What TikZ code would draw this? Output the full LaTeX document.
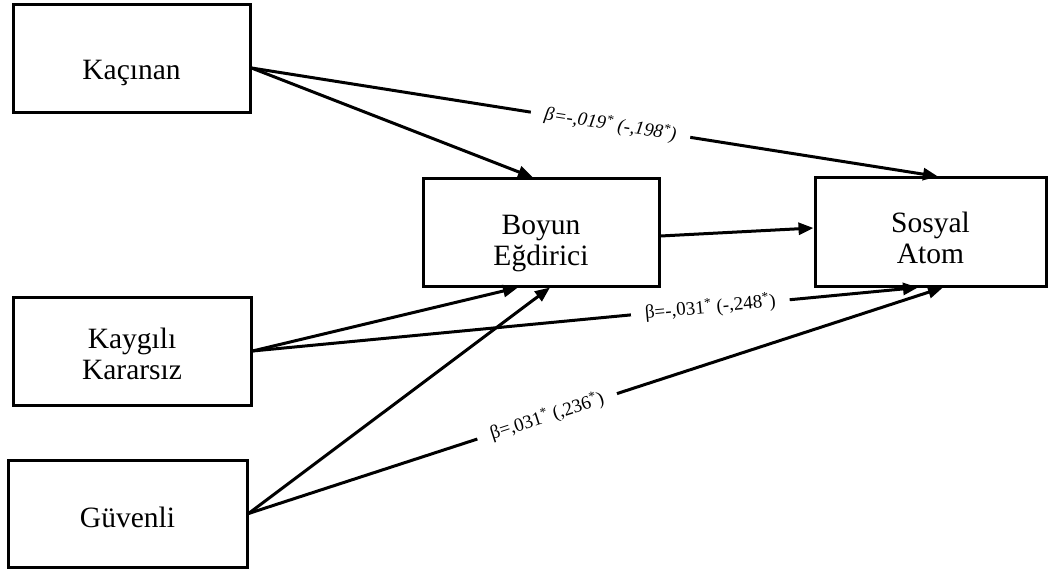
\documentclass[tikz,border=0pt]{standalone}
\usepackage{fontspec}
\setmainfont{Liberation Serif}
\usetikzlibrary{arrows.meta,calc}
\newcommand\bxtxt[2]{\raisebox{-#1}[\height][\depth]{\begin{tabular}{@{}c@{}}#2\end{tabular}}}
\begin{document}
\begin{tikzpicture}[x=1pt,y=-1pt,
  box/.style={draw=black,line width=3pt,fill=white,rectangle,align=center,
    font=\fontsize{29.5}{31}\selectfont,inner sep=0pt},
  conn/.style={line width=3pt,-{Triangle[length=15pt,width=12pt]}},
  lab/.style={fill=white,sloped,font=\fontsize{19}{21}\selectfont,inner xsep=14pt,inner ysep=4pt}]
\useasboundingbox (0,0) rectangle (1049,572);
\node[box,minimum width=237pt,minimum height=108pt] (kac) at (131.5,59) {\bxtxt{14pt}{Kaçınan}};
\node[box,minimum width=238pt,minimum height=108pt] (kay) at (132,351) {\bxtxt{7pt}{Kaygılı\\Kararsız}};
\node[box,minimum width=239pt,minimum height=107pt] (guv) at (127.5,513.5) {\bxtxt{8pt}{Güvenli}};
\node[box,minimum width=236pt,minimum height=107pt] (boy) at (541,232.5) {\bxtxt{11pt}{Boyun\\Eğdirici}};
\node[box,minimum width=231pt,minimum height=108pt] (sos) at (930.5,232) {\bxtxt{10pt}{Sosyal\\Atom}};
\coordinate (kacO) at ([yshift=-9pt]kac.east);
\coordinate (boyT) at ([xshift=-8pt]boy.north);
\coordinate (boyB1) at ([xshift=-23pt]boy.south);
\coordinate (boyB2) at ([xshift=9pt]boy.south);
\coordinate (sosT) at ([xshift=7.5pt]sos.north);
\coordinate (sosB1) at ([xshift=-12.5pt]sos.south);
\coordinate (sosB2) at ([xshift=12.5pt]sos.south);
\coordinate (sosW) at ([yshift=4pt]sos.west);
\coordinate (boyE) at ([yshift=-3.5pt]boy.east);
\draw[conn] (kacO) -- (boyT);
\draw[conn] (kacO) -- node[lab,pos=0.523] {\itshape β=-,019\textsuperscript{*} (-,198\textsuperscript{*})} (sosT);
\draw[conn] (boyE) -- (sosW);
\draw[conn] (kay.east) -- (boyB1);
\draw[conn] (kay.east) -- node[lab,pos=0.688] {β=-,031\textsuperscript{*} (-,248\textsuperscript{*})} (sosB1);
\draw[conn] (guv.east) -- (boyB2);
\draw[conn] (guv.east) -- node[lab,pos=0.43] {β=,031\textsuperscript{*} (,236\textsuperscript{*})} (sosB2);
\end{tikzpicture}
\end{document}
